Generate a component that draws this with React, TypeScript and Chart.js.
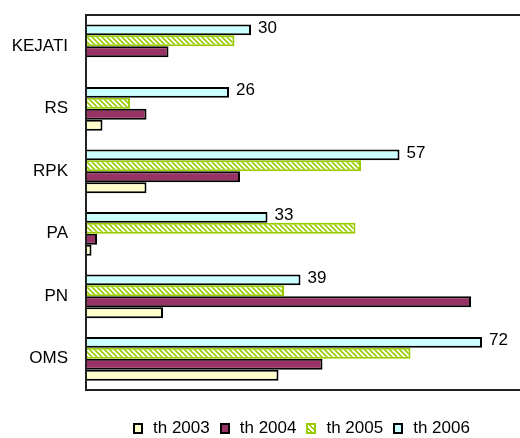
import React, { useEffect, useRef } from "react";
import { Chart, registerables } from "chart.js";

Chart.register(...registerables);

const categories = ["KEJATI", "RS", "RPK", "PA", "PN", "OMS"];
const seriesNames = ["th 2003", "th 2004", "th 2005", "th 2006"];
const th2003 = [0, 3, 11, 1, 14, 35];
const th2004 = [15, 11, 28, 2, 70, 43];
const th2005 = [27, 8, 50, 49, 36, 59];
const th2006 = [30, 26, 57, 33, 39, 72];
const xMax = 80;

const FONT = "'Liberation Sans', Arial, sans-serif";
const YELLOW = "#ffffcc";
const MAROON = "#993366";
const GREEN = "#99cc00";
const CYAN = "#ccffff";

function makeHatch(): CanvasPattern | string {
  const c = document.createElement("canvas");
  const s = 5;
  c.width = s;
  c.height = s;
  const g = c.getContext("2d");
  if (!g) return GREEN;
  g.fillStyle = "#ffffff";
  g.fillRect(0, 0, s, s);
  g.strokeStyle = GREEN;
  g.lineWidth = 1.6;
  g.beginPath();
  g.moveTo(-1, -1);
  g.lineTo(s + 1, s + 1);
  g.moveTo(-1, s - 1);
  g.lineTo(1, s + 1);
  g.moveTo(s - 1, -1);
  g.lineTo(s + 1, 1);
  g.stroke();
  const p = g.createPattern(c, "repeat");
  return p || GREEN;
}

const framePlugin = {
  id: "frame",
  afterDatasetsDraw(chart: any) {
    const { ctx, chartArea } = chart;
    ctx.save();
    ctx.strokeStyle = "#222";
    ctx.lineWidth = 2;
    ctx.strokeRect(chartArea.left, chartArea.top, chartArea.right - chartArea.left, chartArea.bottom - chartArea.top);
    ctx.restore();
    const meta = chart.getDatasetMeta(0);
    ctx.save();
    ctx.fillStyle = "#000";
    ctx.font = "17px " + FONT;
    ctx.textAlign = "left";
    ctx.textBaseline = "middle";
    meta.data.forEach((bar: any, i: number) => {
      const v = chart.data.datasets[0].data[i];
      ctx.fillText(String(v), bar.x + 7, bar.y - 2);
    });
    ctx.restore();
  },
};

export default function App() {
  const ref = useRef<HTMLCanvasElement | null>(null);

  useEffect(() => {
    if (!ref.current) return;
    const hatch = makeHatch();
    const chart = new Chart(ref.current, {
      type: "bar",
      data: {
        labels: categories,
        datasets: [
          { label: seriesNames[3], data: th2006, backgroundColor: CYAN, borderColor: "#000", borderWidth: 2 },
          { label: seriesNames[2], data: th2005, backgroundColor: hatch as any, borderColor: GREEN, borderWidth: 2 },
          { label: seriesNames[1], data: th2004, backgroundColor: MAROON, borderColor: "#000", borderWidth: 2 },
          { label: seriesNames[0], data: th2003, backgroundColor: YELLOW, borderColor: "#000", borderWidth: 2 },
        ],
      },
      options: {
        indexAxis: "y",
        responsive: false,
        animation: false,
        devicePixelRatio: 1,
        layout: { padding: { left: 0, top: 15, right: 14, bottom: 48 } },
        datasets: { bar: { categoryPercentage: 0.7, barPercentage: 1.0 } },
        plugins: { legend: { display: false }, tooltip: { enabled: false } },
        scales: {
          x: { display: false, min: 0, max: xMax },
          y: {
            grid: { display: false, drawTicks: false },
            border: { display: false },
            ticks: { padding: 18, color: "#000", font: { family: FONT, size: 17 } },
            afterFit: (s: any) => {
              s.width = 86;
              s.paddingTop = 0;
              s.paddingBottom = 0;
            },
          },
        },
      },
      plugins: [framePlugin],
    });
    return () => chart.destroy();
  }, []);

  const legendItems = [
    { name: seriesNames[0], bg: YELLOW, border: "#000" },
    { name: seriesNames[1], bg: MAROON, border: "#000" },
    {
      name: seriesNames[2],
      bg: `repeating-linear-gradient(45deg, #fff 0px, #fff 1.8px, ${GREEN} 1.8px, ${GREEN} 3.4px)`,
      border: GREEN,
    },
    { name: seriesNames[3], bg: CYAN, border: "#000" },
  ];

  return (
    <div style={{ position: "fixed", left: 0, top: 0, width: 520, height: 438, overflow: "hidden", background: "#fff" }}>
      <canvas ref={ref} width={540} height={438} style={{ display: "block", width: 540, height: 438 }} />
      <div
        style={{
          position: "absolute",
          left: 133,
          top: 418,
          display: "flex",
          alignItems: "center",
          fontFamily: FONT,
          fontSize: 17,
          lineHeight: "20px",
          color: "#000",
          whiteSpace: "nowrap",
        }}
      >
        {legendItems.map((it) => (
          <div key={it.name} style={{ display: "flex", alignItems: "center", marginRight: 10 }}>
            <span
              style={{
                display: "inline-block",
                boxSizing: "border-box",
                width: 10,
                height: 11,
                border: `2px solid ${it.border}`,
                background: it.bg,
                marginRight: 10,
              }}
            />
            <span>{it.name}</span>
          </div>
        ))}
      </div>
    </div>
  );
}
